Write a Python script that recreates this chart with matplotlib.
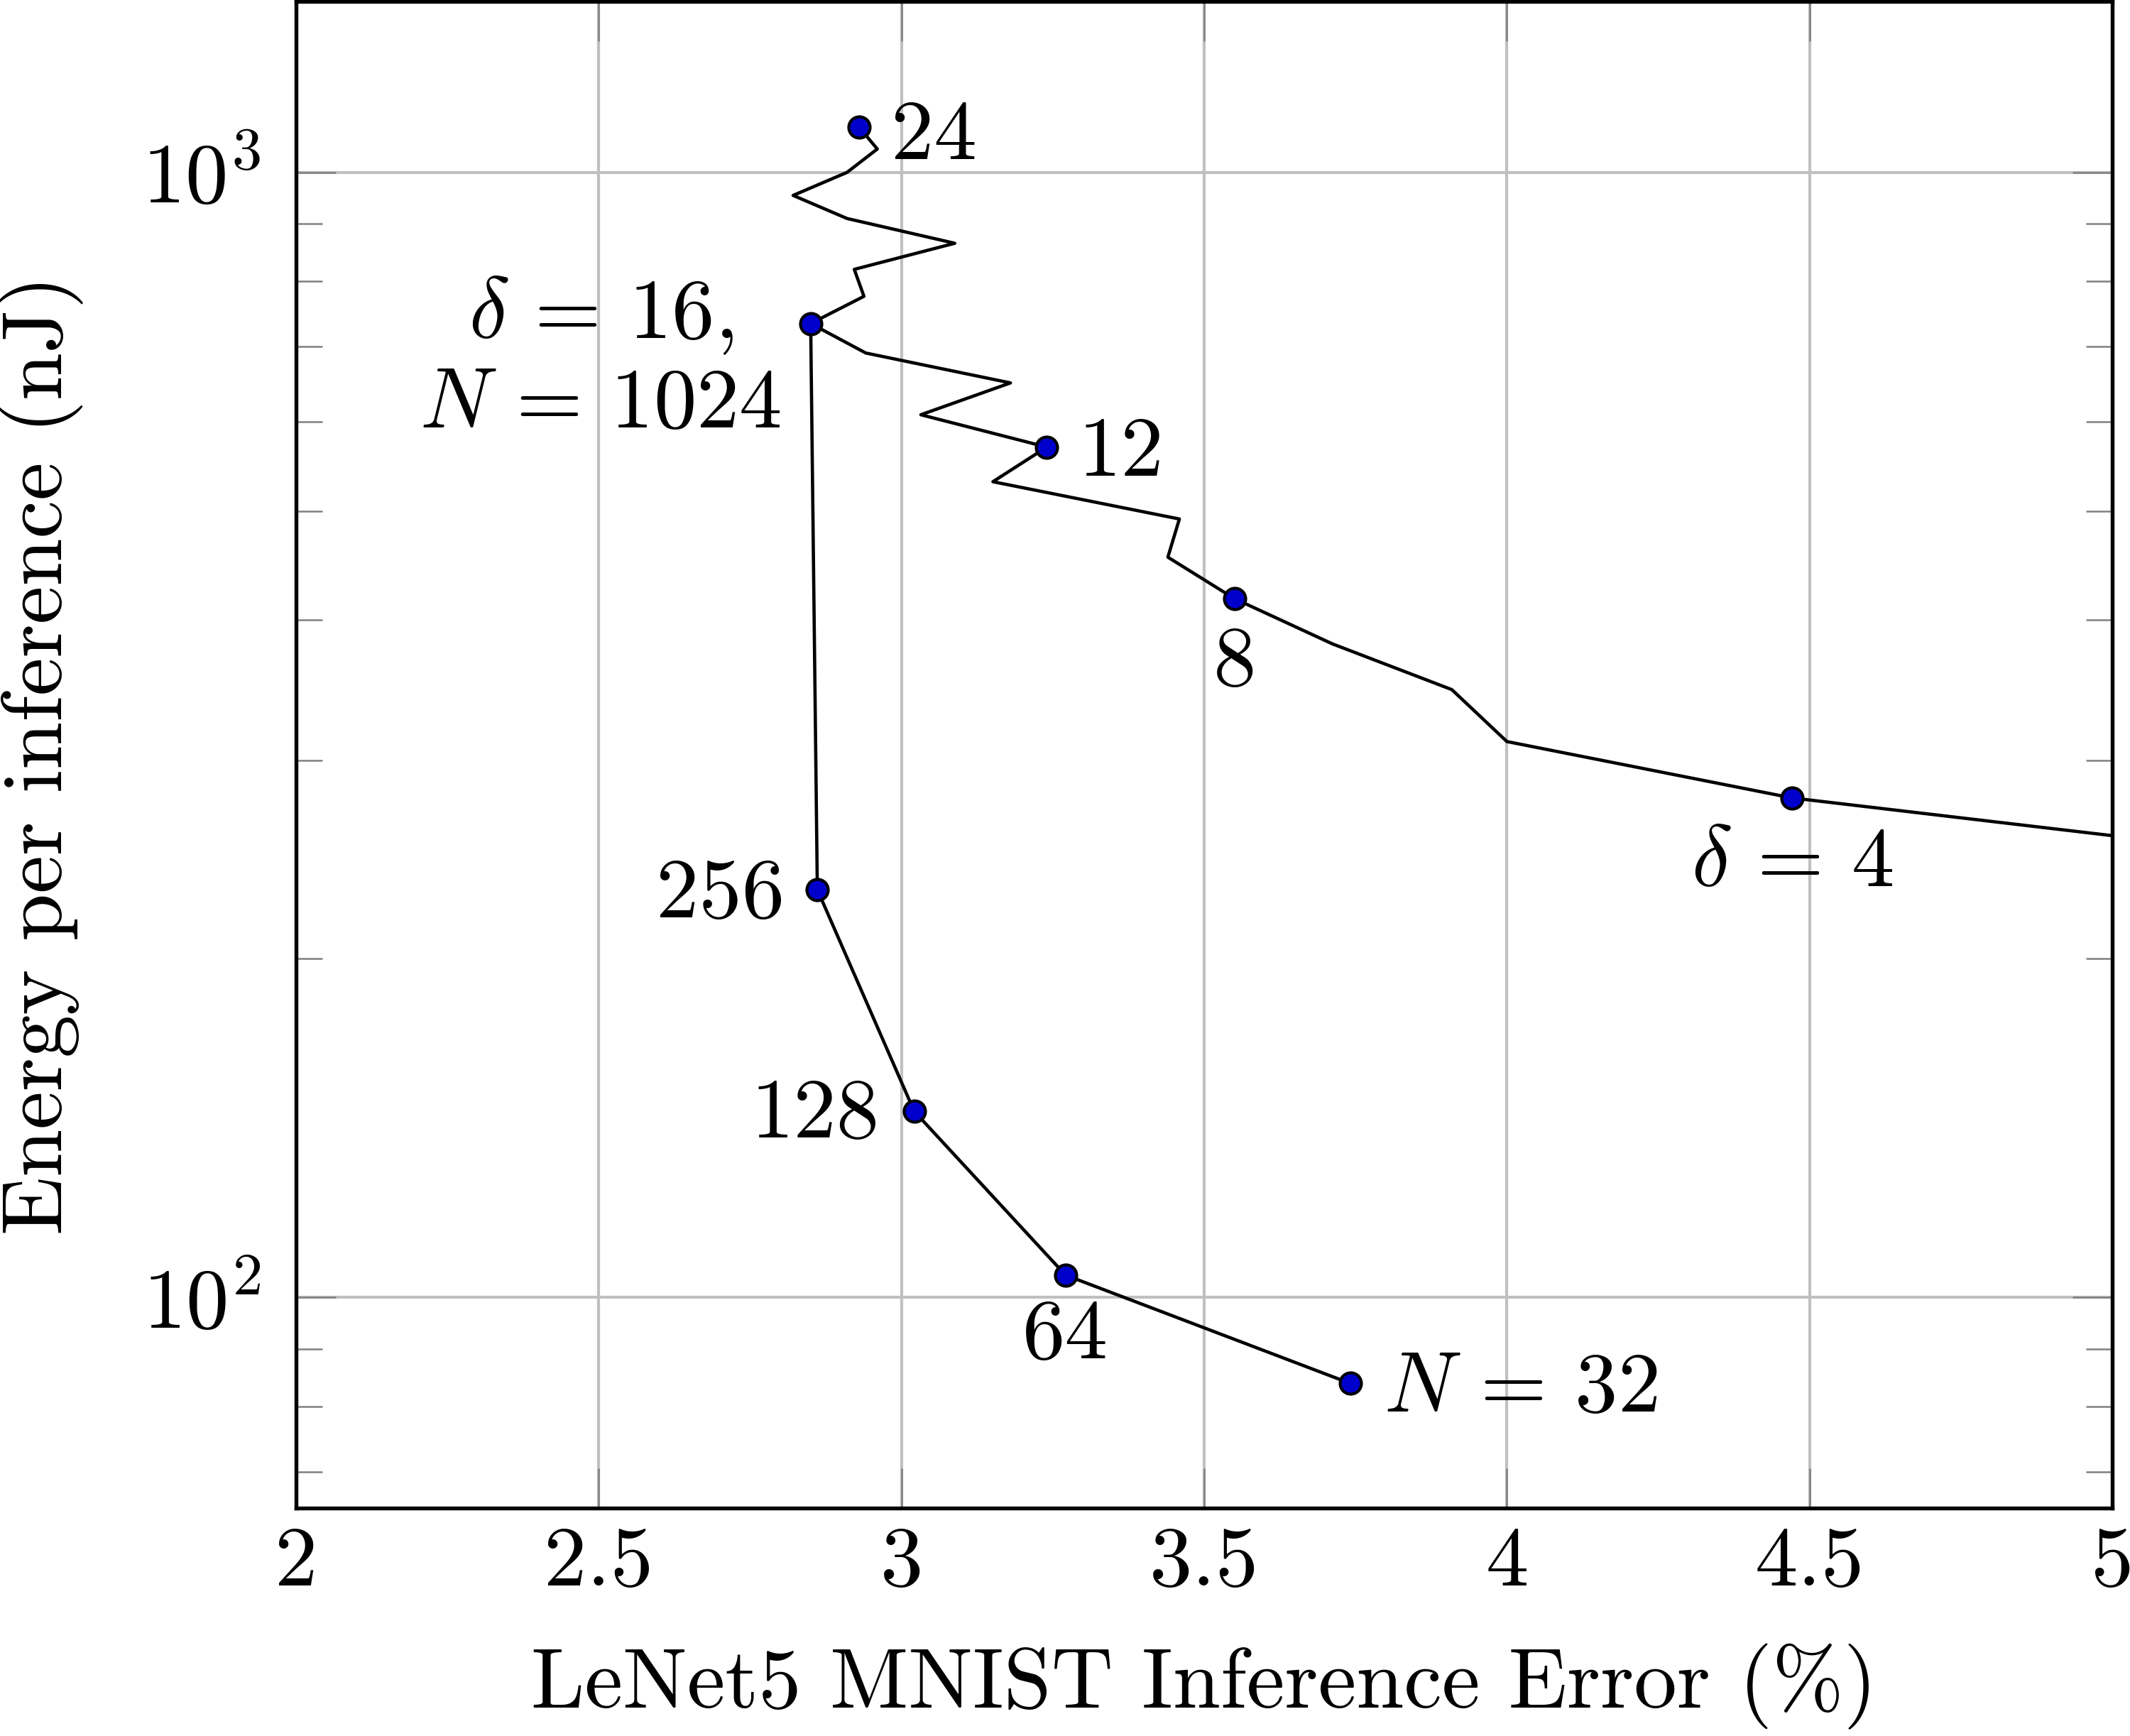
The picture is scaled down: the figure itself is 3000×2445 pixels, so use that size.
import numpy as np
import matplotlib
matplotlib.use('Agg')
import matplotlib.pyplot as plt
from matplotlib.ticker import FixedLocator, LogLocator, NullFormatter

plt.rcParams['font.family'] = 'cmr10'
plt.rcParams['mathtext.fontset'] = 'cm'
plt.rcParams['axes.formatter.use_mathtext'] = True

# delta sweep at N = 1024 (delta = 24 ... 3)
delta_vals = list(range(24, 2, -1))
delta_err = [2.930, 2.960, 2.910, 2.821, 2.910, 3.088, 2.922, 2.938, 2.850,
             2.941, 3.180, 3.032, 3.240, 3.151, 3.459, 3.440, 3.550,
             3.712, 3.909, 4.000, 4.471, 5.800]
delta_energy = [1097, 1049, 1000, 954, 910, 865, 820, 776, 734,
                691, 650, 609, 570, 531, 492, 455, 418,
                381, 347, 312, 278, 229]
delta_marked = [24, 16, 12, 8, 4]

# N sweep at delta = 16
n_vals = [1024, 256, 128, 64, 32]
n_err = [2.850, 2.861, 3.021, 3.271, 3.741]
n_energy = [734, 230.4, 146.4, 104.7, 83.9]

xticks = [2, 2.5, 3, 3.5, 4, 4.5, 5]
xtick_labels = ['2', '2.5', '3', '3.5', '4', '4.5', '5']

fig = plt.figure(figsize=(10, 8.15), dpi=300)
ax = fig.add_axes([0.139, 0.1313, 0.8527, 0.8677])

ax.plot(delta_err, delta_energy, color='k', lw=1.1, zorder=3)
ax.plot(n_err, n_energy, color='k', lw=1.1, zorder=3)

mx = [delta_err[delta_vals.index(d)] for d in delta_marked]
my = [delta_energy[delta_vals.index(d)] for d in delta_marked]
mk = dict(ls='none', marker='o', ms=7.2, mfc='#0000cc', mec='k', mew=1.0, zorder=4)
ax.plot(mx, my, **mk)
ax.plot(n_err[1:], n_energy[1:], **mk)

fs = 29
# labels: text, point, offset (points), ha, va
labels = [
    ('24', (delta_err[0], delta_energy[0]), (10.8, -10.7), 'left', 'baseline'),
    ('12', (mx[2], my[2]), (10.6, -9.6), 'left', 'baseline'),
    ('8', (mx[3], my[3]), (0, -29.2), 'center', 'baseline'),
    (r'$\delta\,=\,4$', (mx[4], my[4]), (0, -29.7), 'center', 'baseline'),
    ('256', (n_err[1], n_energy[1]), (-11, -9.4), 'right', 'baseline'),
    ('128', (n_err[2], n_energy[2]), (-11.7, -8.9), 'right', 'baseline'),
    ('64', (n_err[3], n_energy[3]), (0, -28.2), 'center', 'baseline'),
    (r'$N\,=\,32$', (n_err[4], n_energy[4]), (11.5, -9.6), 'left', 'baseline'),
    (r'$\delta\,=\,16,$' + '\n' + r'$N\,=\,1024$', (n_err[0], n_energy[0]), (-71, -12), 'center', 'center'),
]
for txt, xy, off, ha, va in labels:
    ax.annotate(txt, xy=xy, xytext=off, textcoords='offset points',
                ha=ha, va=va, fontsize=fs, multialignment='center', zorder=5)

ax.set_yscale('log')
ax.set_xlim(2, 5)
ax.set_ylim(65, 1418)

ax.xaxis.set_major_locator(FixedLocator(xticks))
ax.set_xticklabels(xtick_labels)
ax.yaxis.set_major_locator(FixedLocator([100, 1000]))
ax.yaxis.set_minor_locator(LogLocator(base=10, subs=np.arange(2, 10)))
ax.yaxis.set_minor_formatter(NullFormatter())

ax.grid(True, which='major', color='#c0c0c0', lw=1.0)
ax.set_axisbelow(True)
ax.tick_params(which='both', direction='in', top=True, right=True,
               color='#808080', labelsize=fs)
ax.tick_params(which='major', length=13.4, width=0.6)
ax.tick_params(which='minor', length=8.9, width=0.6)
ax.tick_params(axis='x', pad=6)
ax.tick_params(axis='y', pad=12)
for s in ax.spines.values():
    s.set_linewidth(1.3)

ax.set_xlabel('LeNet5 MNIST Inference Error (%)', fontsize=fs, labelpad=14)
ax.set_ylabel('Energy per inference (nJ)', fontsize=fs, labelpad=20)

fig.savefig('out.png', dpi=300)
